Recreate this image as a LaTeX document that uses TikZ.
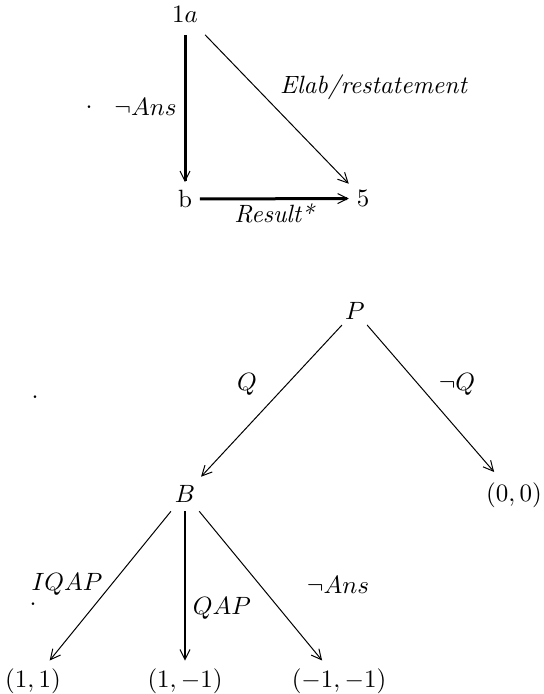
\documentclass[tikz,border=0pt]{standalone}
\usetikzlibrary{arrows.meta}
\begin{document}
\begin{tikzpicture}[x=0.4pt,y=-0.4pt,
  lbl/.style={inner sep=0pt},
  vx/.style={inner sep=3pt},
  arr/.style={-{Straight Barb[length=4pt,width=4pt,line width=0.4pt]}, line width=0.4pt},
  thickarr/.style={arr, line width=1.2pt},
  medarr/.style={arr, line width=0.8pt}]
\useasboundingbox (0,0) rectangle (543,694);
% top diagram
\node[vx, inner sep=4.8pt] (a1) at (185,14) {1$a$};
\node[vx] (b) at (185,199) {b};
\node[vx] (five) at (363,198.5) {5};
\draw[thickarr] (a1) -- (b);
\draw[arr] (a1) -- (five);
\draw[thickarr] (b) -- (five);
\node[lbl, anchor=base east] (lAns) at (177,115) {$\neg Ans$};
\node[lbl] (d1) at (89,107) {.};
\node[lbl, anchor=base] (lElab) at (374,93) {\textit{Elab/restatement}};
\node[lbl, anchor=base] (lRes) at (275,222) {\textit{Result*}};
% bottom tree
\node[vx, inner sep=2pt] (P) at (355,311) {$P$};
\node[vx, inner sep=3.3pt] (B) at (185,494) {$B$};
\node[vx, inner sep=4pt] (z) at (514,495) {$(0,0)$};
\node[vx] (c1) at (33,681) {$(1,1)$};
\node[vx] (c2) at (185,681) {$(1,-1)$};
\node[vx] (c3) at (339,681) {$(-1,-1)$};
\draw[arr] (P) -- (B);
\draw[arr] (P) -- (z);
\draw[arr] (B) -- (c1);
\draw[medarr] (B) -- (c2);
\draw[arr] (B) -- (c3);
\node[lbl, anchor=base] (lQ) at (247,390) {$Q$};
\node[lbl, anchor=base] (lnQ) at (457,390) {$\neg Q$};
\node[lbl] (d2) at (35,397) {.};
\node[lbl, anchor=base] (lIQAP) at (67,590) {$IQAP$};
\node[lbl] (d3) at (33,604) {.};
\node[lbl, anchor=base] (lQAP) at (222,614) {$QAP$};
\node[lbl, anchor=base] (lnAns) at (338,593) {$\neg Ans$};
\end{tikzpicture}
\end{document}
